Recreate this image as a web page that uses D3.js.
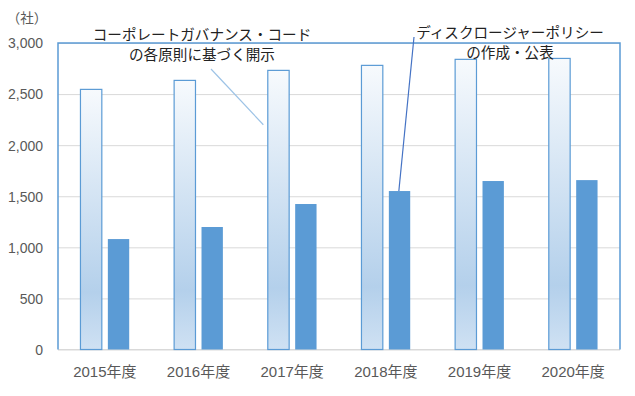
<!DOCTYPE html>
<meta charset="utf-8">
<script src="https://d3js.org/d3.v7.min.js"></script>
<style type="text/css">
body { margin: 0; background: #fff; }
.axis text { font-family: "Liberation Sans", "Noto Sans CJK JP", sans-serif; font-size: 14px; fill: #595959; }
.x.axis text { font-size: 15px; }
.axis path { display: none; }
.y.axis line { stroke: #d9d9d9; }
.x.axis line { display: none; }
.note { font-family: "Noto Sans CJK JP", sans-serif; font-size: 14.6px; fill: #222; }
</style>
<body>
<script>

var years = ['2015年度', '2016年度', '2017年度', '2018年度', '2019年度', '2020年度'];
var seriesNames = ['cg', 'dp'];
// コーポレートガバナンス・コードの各原則に基づく開示
var cgCounts = [2546, 2634, 2732, 2781, 2840, 2849];
// ディスクロージャーポリシーの作成・公表
var dpCounts = [1081, 1199, 1424, 1551, 1649, 1658];
var yTicks = [0, 500, 1000, 1500, 2000, 2500, 3000];

var data = years.map(function(y, i) {
  return {year: y, cg: cgCounts[i], dp: dpCounts[i]};
});

var width = 635, height = 396;
var margin = {top: 43, right: 15, bottom: 46.5, left: 58};
var w = width - margin.left - margin.right;
var h = height - margin.top - margin.bottom;

var svg = d3.select('body').append('svg')
    .attr('width', width)
    .attr('height', height);

var defs = svg.append('defs');
var grad = defs.append('linearGradient')
    .attr('id', 'lightGrad')
    .attr('x1', 0).attr('y1', 0).attr('x2', 0).attr('y2', 1);
grad.append('stop').attr('offset', '0%').attr('stop-color', '#f7fafd');
grad.append('stop').attr('offset', '78%').attr('stop-color', '#b4d0eb');
grad.append('stop').attr('offset', '100%').attr('stop-color', '#cfe1f3');

var g = svg.append('g')
    .attr('transform', 'translate(' + margin.left + ',' + margin.top + ')');

// scales
var x0 = d3.scaleBand().domain(years).range([0, w]);
var x1 = d3.scaleBand().domain(seriesNames).range([0, x0.bandwidth()])
    .paddingInner(0.22).paddingOuter(0.82);
var y = d3.scaleLinear().domain([0, 3000]).range([h, 0]);

// axes
g.append('g')
    .attr('class', 'y axis')
    .call(d3.axisLeft(y).tickValues(yTicks).tickSize(-w).tickPadding(15)
      .tickFormat(d3.format(',')))
  .selectAll('text')
    .attr('dy', '0.35em');

g.append('g')
    .attr('class', 'x axis')
    .attr('transform', 'translate(0,' + h + ')')
    .call(d3.axisBottom(x0).tickSize(0).tickPadding(17));

// bottom axis line
g.append('line')
    .attr('x1', 0).attr('x2', w).attr('y1', h).attr('y2', h)
    .style('stroke', '#d9d9d9');

// plot border (left, top, right)
g.append('path')
    .attr('d', 'M0,' + h + 'V0H' + w + 'V' + h)
    .style('fill', 'none')
    .style('stroke', '#5b9bd5')
    .style('stroke-width', 1.5);

// bars
var groups = g.selectAll('.yearGroup')
    .data(data).enter().append('g')
    .attr('class', 'yearGroup')
    .attr('transform', function(d) { return 'translate(' + x0(d.year) + ',0)'; });

groups.append('rect')
    .attr('x', x1('cg'))
    .attr('y', function(d) { return y(d.cg); })
    .attr('width', x1.bandwidth())
    .attr('height', function(d) { return h - y(d.cg); })
    .style('fill', 'url(#lightGrad)')
    .style('stroke', '#5b9bd5')
    .style('stroke-width', 1.2);

groups.append('rect')
    .attr('x', x1('dp'))
    .attr('y', function(d) { return y(d.dp); })
    .attr('width', x1.bandwidth())
    .attr('height', function(d) { return h - y(d.dp); })
    .style('fill', '#5b9bd5');

// y axis title
svg.append('text')
    .attr('class', 'note')
    .attr('x', 27).attr('y', 23)
    .attr('text-anchor', 'middle')
    .style('font-size', '13.5px')
    .style('fill', '#595959')
    .text('（社）');

// annotations
var notes = [
  {lines: ['コーポレートガバナンス・コード', 'の各原則に基づく開示'], cx: 202, ty: 40,
   from: [211, 69], toYear: '2017年度', toDx: 18, toValue: 2200, color: '#9dc3e6'},
  {lines: ['ディスクロージャーポリシー', 'の作成・公表'], cx: 510, ty: 38,
   from: [414, 37], toYear: '2018年度', toDx: x1('dp') + 10, toValue: dpCounts[3], color: '#4472c4'}
];

notes.forEach(function(n) {
  svg.append('line')
      .attr('x1', n.from[0]).attr('y1', n.from[1])
      .attr('x2', margin.left + x0(n.toYear) + n.toDx)
      .attr('y2', margin.top + y(n.toValue))
      .style('stroke', n.color)
      .style('stroke-width', 1.2);

  var t = svg.append('text')
      .attr('class', 'note')
      .attr('text-anchor', 'middle');
  n.lines.forEach(function(l, i) {
    t.append('tspan')
      .attr('x', n.cx)
      .attr('y', n.ty + i * 19.5)
      .text(l);
  });
});

</script>
</body>
